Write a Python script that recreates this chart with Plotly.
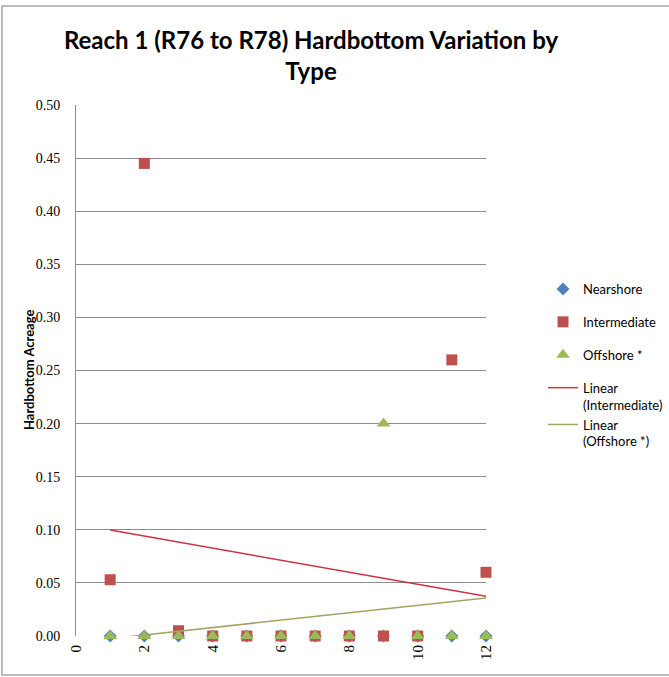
import numpy as np
import plotly.graph_objects as go

# Survey index (x) and hardbottom acreage per type
survey = [1, 2, 3, 4, 5, 6, 7, 8, 9, 10, 11, 12]
nearshore = [0, 0, 0, 0, 0, 0, 0, 0, 0, 0, 0, 0]
intermediate = [0.053, 0.445, 0.005, 0, 0, 0, 0, 0, 0, 0, 0.26, 0.06]
offshore = [0, 0, 0, 0, 0, 0, 0, 0, 0.2, 0, 0, 0]

x_ticks = [0, 2, 4, 6, 8, 10, 12]
y_ticks = [0.00, 0.05, 0.10, 0.15, 0.20, 0.25, 0.30, 0.35, 0.40, 0.45, 0.50]

BLUE = "#4F81BD"
RED = "#C0504D"
GREEN = "#9BBB59"
TREND_RED = "#CC3344"
TREND_GREEN = "#A3A364"
GRID = "#8C8C8C"

# Least-squares linear trends
xs = np.array(survey, dtype=float)
m_i, b_i = np.polyfit(xs, np.array(intermediate), 1)
m_o, b_o = np.polyfit(xs, np.array(offshore), 1)
trend_x = [survey[0], survey[-1]]

fig = go.Figure()
fig.add_trace(go.Scatter(
    x=survey, y=nearshore, mode="markers", name="Nearshore", legendgroup="n",
    marker=dict(symbol="diamond", size=10, color=BLUE, line=dict(width=0)),
    cliponaxis=False))
fig.add_trace(go.Scatter(
    x=survey, y=intermediate, mode="markers", name="Intermediate", legendgroup="i",
    marker=dict(symbol="square", size=11, color=RED, line=dict(width=0)),
    cliponaxis=False))
fig.add_trace(go.Scatter(
    x=survey, y=offshore, mode="markers", name="Offshore *", legendgroup="o",
    marker=dict(symbol="triangle-up", size=12, color=GREEN, line=dict(width=0)),
    cliponaxis=False))
fig.add_trace(go.Scatter(
    x=trend_x, y=[m_i * v + b_i for v in trend_x], mode="lines",
    name="Linear<br>(Intermediate)", legendgroup="t",
    line=dict(color=TREND_RED, width=1.5)))
fig.add_trace(go.Scatter(
    x=trend_x, y=[m_o * v + b_o for v in trend_x], mode="lines",
    name="Linear<br>(Offshore *)", legendgroup="t",
    line=dict(color=TREND_GREEN, width=1.5)))

# Plot area in pixels: x 76..486, y 105..636
L, R, T, B = 76, 486, 105, 636
W, H = R - L, B - T


def px_x(p):
    return (p - L) / W


def px_y(p):
    return (B - p) / H


fig.update_layout(
    width=669, height=677,
    margin=dict(l=L, r=669 - R, t=T, b=677 - B, autoexpand=False),
    paper_bgcolor="white", plot_bgcolor="white",
    title=dict(
        text="Reach 1 (R76 to R78) Hardbottom Variation by<br>Type",
        x=(311) / 669, xanchor="center", xref="container",
        y=1 - 49 / 677, yanchor="top", yref="container",
        font=dict(family="Lato", size=24, color="#000000", weight="bold")),
    xaxis=dict(
        range=[0, 12], tickvals=x_ticks, ticktext=[str(v) for v in x_ticks],
        tickangle=-90, showgrid=False, zeroline=False,
        showline=False, ticks="", ticklabelstandoff=5,
        tickfont=dict(family="Liberation Serif", size=15, color="#000000")),
    yaxis=dict(
        range=[0, 0.5], tickvals=y_ticks, ticktext=[f"{v:.2f}" for v in y_ticks],
        showgrid=True, gridcolor=GRID, gridwidth=1, zeroline=False,
        showline=True, linecolor=GRID, linewidth=1, ticks="",
        ticklabelstandoff=12,
        tickfont=dict(family="Liberation Serif", size=14, color="#000000")),
    legend=dict(
        x=px_x(543), y=px_y(274), xanchor="left", yanchor="top",
        xref="paper", yref="paper", tracegroupgap=13, valign="top",
        font=dict(family="Lato", size=13, color="#000000"),
        bgcolor="rgba(0,0,0,0)", itemwidth=30),
    showlegend=True,
    annotations=[dict(
        text="Hardbottom Acreage", textangle=-90, showarrow=False,
        xref="paper", yref="paper", x=px_x(29), y=px_y(370),
        xanchor="center", yanchor="middle",
        font=dict(family="Lato", size=13, color="#000000", weight="bold"))],
    shapes=[dict(
        type="rect", xref="paper", yref="paper", layer="below",
        x0=px_x(2), x1=px_x(672), y0=px_y(675), y1=px_y(6),
        line=dict(color="#A6A6A6", width=1.5), fillcolor="rgba(0,0,0,0)")],
)

fig.write_html("out.html")
